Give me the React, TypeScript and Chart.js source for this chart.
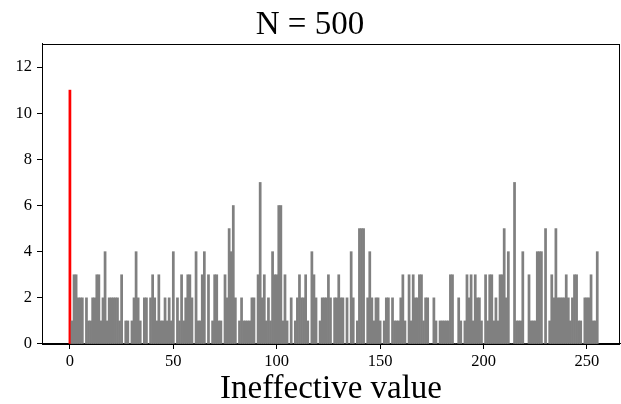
import React, { useEffect, useRef } from "react";
import { Chart, registerables } from "chart.js";

Chart.register(...registerables);

// Histogram bins (ineffective values 0..255)
const binValues: number[] = Array.from({ length: 256 }, (_, i) => i);

// Counts per bin
const counts0to41: number[] = [11, 1, 3, 3, 2, 2, 2, 0, 2, 1, 1, 2, 2, 3, 3, 1, 2, 4, 1, 2, 2, 2, 2, 2, 1, 3, 0, 1, 1, 0, 1, 2, 4, 2, 1, 0, 2, 2, 0, 2, 3, 2];
const counts42to85: number[] = [1, 3, 1, 1, 2, 1, 2, 1, 4, 0, 2, 1, 3, 1, 2, 3, 3, 2, 0, 4, 1, 1, 3, 4, 0, 3, 0, 1, 3, 3, 1, 1, 0, 3, 2, 5, 4, 6, 2, 0, 1, 2, 1, 1];
const counts86to129: number[] = [1, 1, 2, 2, 0, 3, 7, 2, 3, 1, 2, 1, 4, 3, 3, 6, 6, 1, 3, 1, 0, 2, 0, 1, 2, 3, 2, 2, 3, 1, 0, 4, 3, 2, 0, 1, 2, 2, 2, 3, 2, 0, 2, 2];
const counts130to172: number[] = [3, 2, 2, 0, 2, 0, 4, 2, 0, 1, 5, 5, 5, 0, 2, 4, 2, 1, 2, 2, 1, 0, 1, 2, 2, 0, 2, 1, 1, 1, 2, 3, 1, 0, 3, 1, 3, 2, 2, 3, 3, 1, 2];
const counts173to215: number[] = [2, 0, 0, 2, 1, 0, 1, 1, 1, 1, 1, 3, 3, 0, 0, 2, 1, 0, 1, 3, 2, 3, 1, 3, 2, 2, 1, 0, 3, 1, 3, 3, 1, 2, 1, 3, 3, 5, 2, 4, 0, 0, 7];
const counts216to255: number[] = [1, 1, 1, 4, 0, 0, 3, 1, 1, 1, 4, 4, 4, 0, 5, 0, 1, 3, 2, 5, 2, 2, 2, 2, 3, 2, 1, 2, 3, 3, 1, 1, 0, 2, 2, 2, 3, 1, 1, 4];

const counts: number[] = [
  ...counts0to41,
  ...counts42to85,
  ...counts86to129,
  ...counts130to172,
  ...counts173to215,
  ...counts216to255,
];

const highlightBin = 0;
const xTicks: number[] = [0, 50, 100, 150, 200, 250];
const yTicks: number[] = [0, 2, 4, 6, 8, 10, 12];
const titleText = "N = 500";
const xTitleText = "Ineffective value";

const FONT = "'Liberation Serif', 'Times New Roman', serif";

const framePlugin = {
  id: "frame",
  afterDraw(chart: any) {
    const { ctx, chartArea } = chart;
    const { left, top, right, bottom } = chartArea;
    ctx.save();
    ctx.strokeStyle = "#000";
    ctx.lineWidth = 1;
    ctx.strokeRect(Math.round(left) + 0.5, Math.round(top) + 0.5, Math.round(right - left) - 1, Math.round(bottom - top));
    ctx.restore();
  },
};

export default function App() {
  const canvasRef = useRef<HTMLCanvasElement | null>(null);

  useEffect(() => {
    const canvas = canvasRef.current;
    if (!canvas) return;
    const data = binValues.map((b, i) => ({ x: b, y: counts[i] }));
    const colors = binValues.map((b) => (b === highlightBin ? "#ff0000" : "#808080"));

    const chart = new Chart(canvas, {
      type: "bar",
      data: {
        datasets: [
          {
            data,
            backgroundColor: colors,
            borderWidth: 0,
            barPercentage: 1,
            categoryPercentage: 1,
          },
        ],
      },
      plugins: [framePlugin],
      options: {
        responsive: false,
        animation: false,
        devicePixelRatio: 1,
        layout: { padding: { left: 0, right: 1, top: 0, bottom: 0 } },
        plugins: {
          legend: { display: false },
          tooltip: { enabled: false },
          title: {
            display: true,
            text: titleText,
            color: "#000",
            font: { family: FONT, size: 33, weight: "normal", lineHeight: 1.12 },
            padding: { top: 7, bottom: 0 },
          },
        },
        scales: {
          x: {
            type: "linear",
            min: -13.5,
            max: 266,
            offset: false,
            afterBuildTicks: (scale: any) => {
              scale.ticks = xTicks.map((v) => ({ value: v }));
            },
            afterFit: (scale: any) => {
              scale.height = 60;
            },
            grid: {
              display: true,
              offset: false,
              drawOnChartArea: false,
              drawTicks: true,
              tickLength: 5,
              color: "#000",
              lineWidth: 1,
            },
            border: { display: true, color: "#000", width: 1 },
            ticks: {
              color: "#000",
              font: { family: FONT, size: 16.5 },
              padding: 3,
              maxRotation: 0,
              autoSkip: false,
            },
            title: {
              display: true,
              text: xTitleText,
              color: "#000",
              font: { family: FONT, size: 33, lineHeight: 0.9 },
              padding: { top: 0, bottom: 0 },
            },
          },
          y: {
            type: "linear",
            min: 0,
            max: 13,
            afterBuildTicks: (scale: any) => {
              scale.ticks = yTicks.map((v) => ({ value: v }));
            },
            afterFit: (scale: any) => {
              scale.width = 42;
            },
            grid: {
              display: true,
              offset: false,
              drawOnChartArea: false,
              drawTicks: true,
              tickLength: 5,
              color: "#000",
              lineWidth: 1,
            },
            border: { display: true, color: "#000", width: 1 },
            ticks: {
              color: "#000",
              font: { family: FONT, size: 16.5 },
              padding: 5,
              autoSkip: false,
            },
          },
        },
      },
    } as any);

    return () => {
      chart.destroy();
    };
  }, []);

  return (
    <div style={{ position: "fixed", left: 0, top: 0, width: 621, height: 404, background: "#fff" }}>
      <canvas ref={canvasRef} width={621} height={404} style={{ display: "block" }} />
    </div>
  );
}
